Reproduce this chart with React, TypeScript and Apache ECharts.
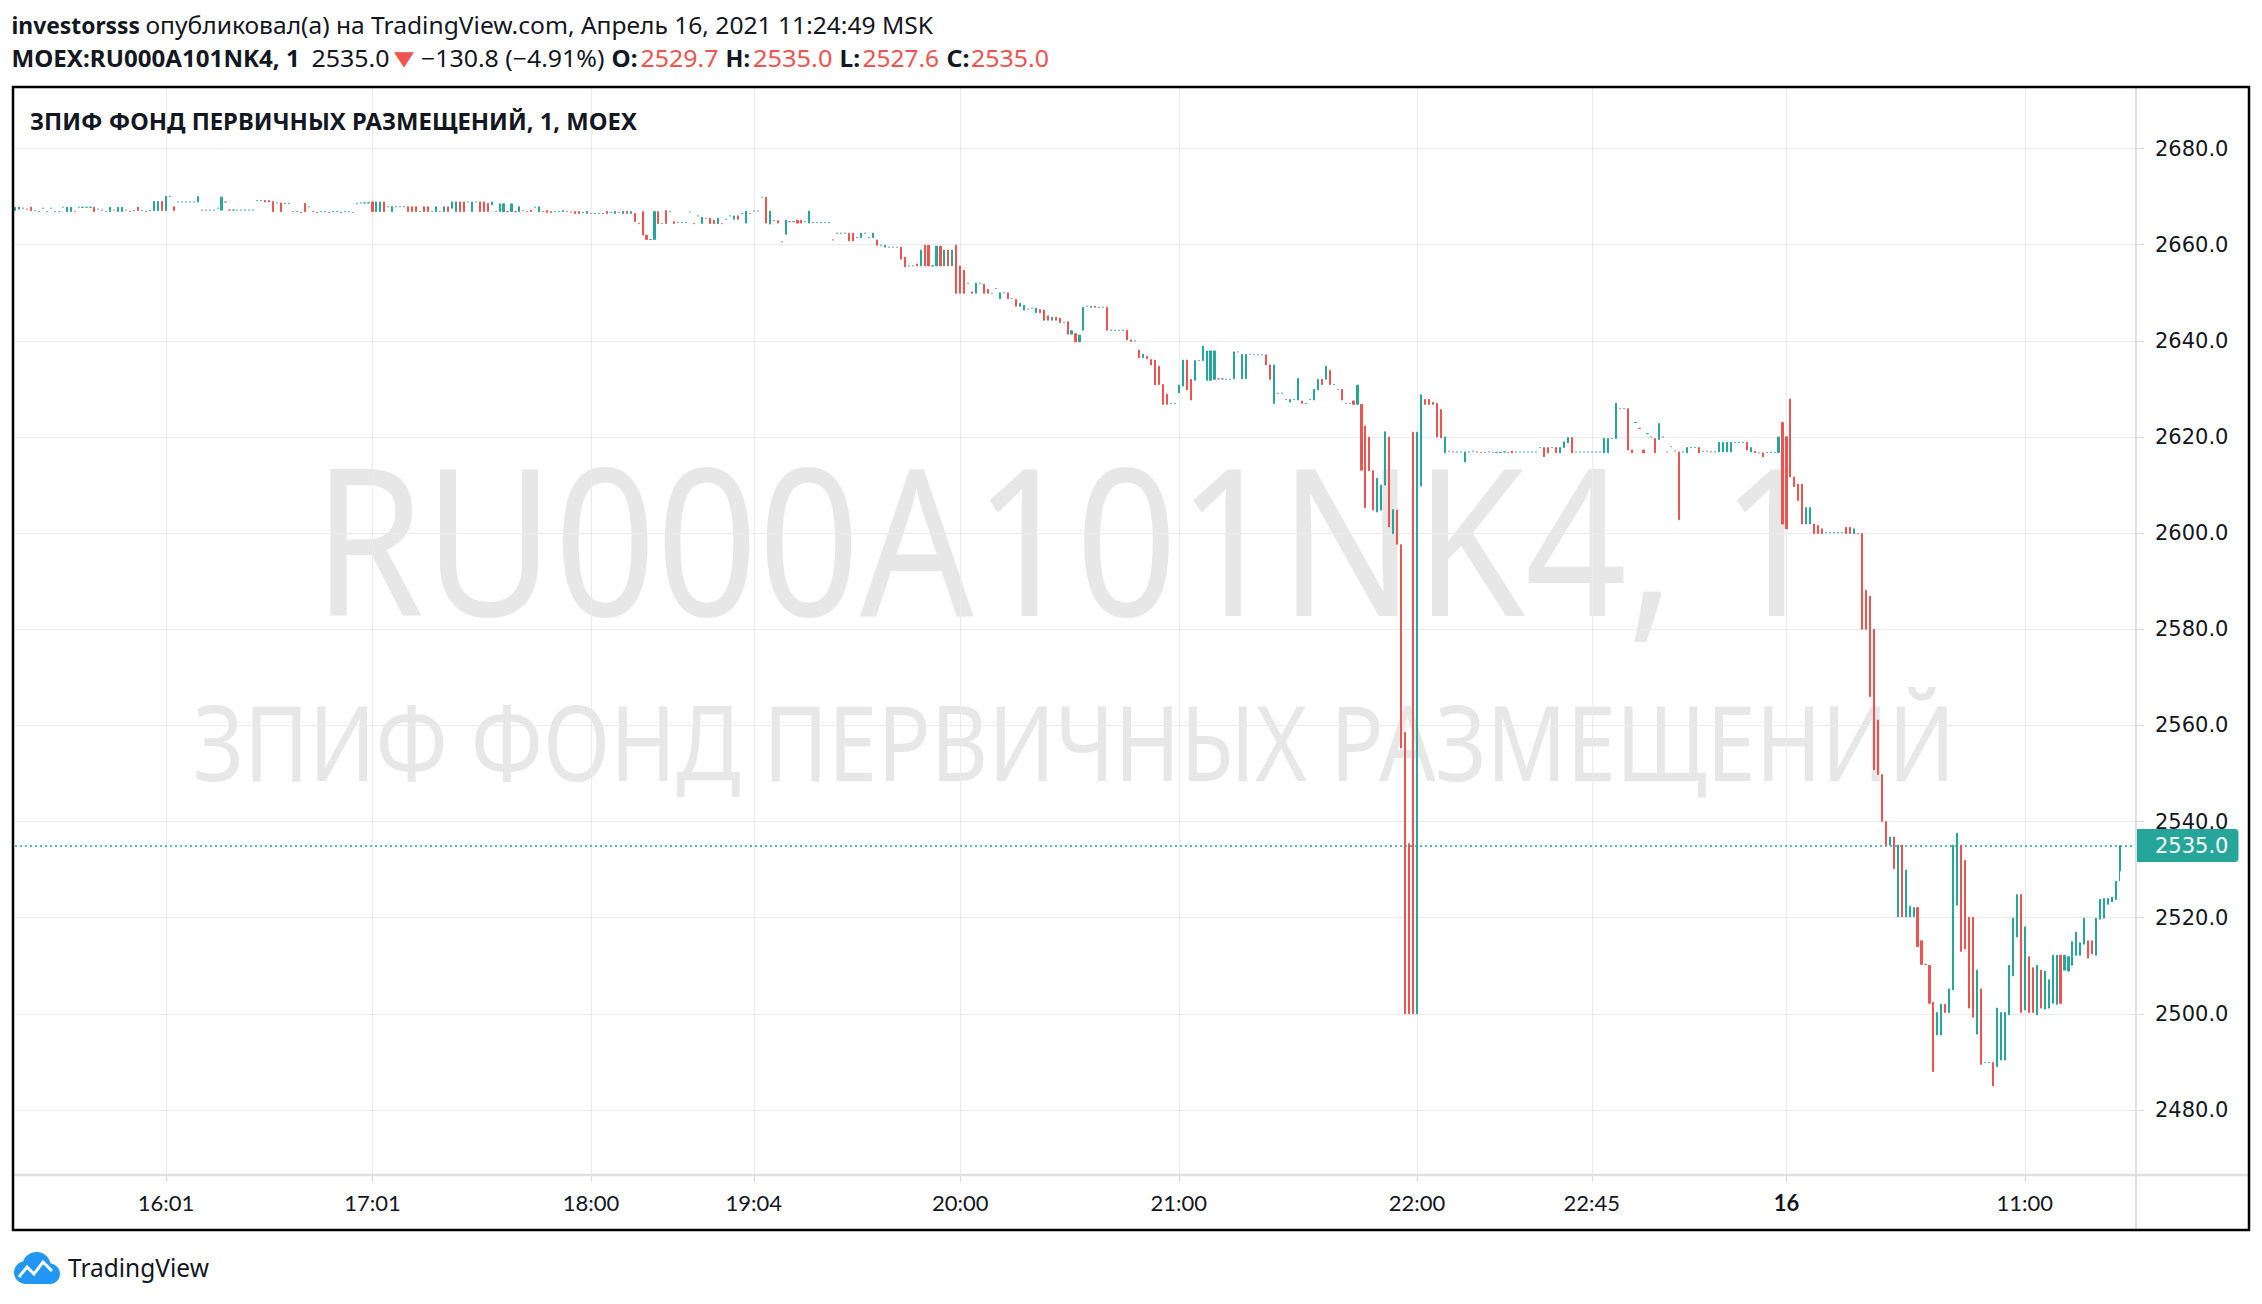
import React, { useEffect, useRef } from "react";
import * as echarts from "echarts";

type Bar = number | number[];

// ---- 1-minute OHLC bars (open, close[, low, high]); a single number = flat bar ----
// 15:23 – 16:51
const barsA: Bar[] = [
  [2667.1, 2667.8], [2667.4, 2667.8], 2667.6, 2667.4, [2667.8, 2667.1], 2667.1, 2666.9, 2667.6, 2666.9, 2667.6,
  2666.9, 2666.9, 2667.8, [2666.9, 2667.8], [2666.9, 2667.8], 2666.9, 2667.8, 2667.8, 2667.8, 2667.8,
  [2667.8, 2666.9], 2667.4, 2667.2, 2666.9, [2666.9, 2667.8], 2667.2, [2666.9, 2667.8], [2666.9, 2667.8], 2667.2, 2666.9,
  2667.1, [2667.8, 2667.1], 2667.1, 2666.9, 2667.1, [2667.1, 2669.0], [2667.1, 2669.0], [2669.0, 2667.1], [2667.1, 2670.1], 2670.0,
  [2667.9, 2667.1], 2668.9, 2668.9, 2668.9, 2668.9, 2668.9, [2668.9, 2670.0], 2667.2, 2667.2, 2667.2,
  2667.2, 2667.6, [2667.2, 2669.9], 2668.9, 2667.2, 2667.2, 2667.2, 2667.2, 2667.2, 2667.2,
  2667.2, 2669.2, 2669.2, [2669.2, 2668.9], [2669.2, 2668.9], [2669.0, 2666.9], 2668.7, [2668.7, 2666.9], 2668.6, 2668.6,
  2666.9, 2666.9, 2666.7, [2668.6, 2666.9], 2667.9, 2666.9, 2666.7, 2666.9, 2666.9, 2666.7,
  2666.9, 2666.9, 2666.7, 2666.9, 2666.9, 2666.7, 2668.6, 2668.7, 2668.7, 2668.7,
];

// 17:01 – 18:59
const barsB: Bar[] = [
  [2668.9, 2666.9], [2666.9, 2668.9], [2666.9, 2668.9], [2668.9, 2666.9], 2667.9, [2666.9, 2667.9], 2667.9, 2667.9, 2667.9, [2667.9, 2666.9],
  [2667.9, 2666.9], [2667.9, 2666.9], 2666.9, [2667.9, 2666.9], [2667.9, 2666.9], 2666.9, [2666.9, 2667.9], 2666.9, [2666.9, 2667.9], [2667.9, 2666.9],
  [2667.6, 2668.9], [2666.9, 2668.9], [2668.9, 2666.9], [2668.9, 2666.9], 2668.9, [2666.9, 2668.9], 2668.9, [2668.9, 2666.9], [2668.9, 2666.9], [2668.6, 2666.9],
  [2668.3, 2668.9], 2666.9, [2666.9, 2668.5], [2666.9, 2668.5], 2666.9, [2666.9, 2668.5], 2666.9, [2666.9, 2667.9], 2667.1, 2666.9,
  [2667.2, 2666.9], 2667.8, [2666.9, 2667.9], 2666.9, [2667.1, 2666.7], [2666.9, 2666.7], 2666.9, 2666.9, [2666.9, 2667.1], 2666.9,
  2666.8, [2666.9, 2666.5], [2666.9, 2666.5], 2666.7, [2666.5, 2666.9], 2666.5, 2666.5, 2666.5, 2666.5, [2666.9, 2666.5],
  2666.7, [2666.5, 2666.9], 2666.7, [2666.5, 2666.9], [2666.9, 2666.5], [2666.5, 2666.9], [2666.5, 2664.8], 2664.4, [2666.9, 2662.0], [2662.0, 2661.1],
  2661.1, [2661.1, 2666.9], [2666.9, 2664.4], 2664.4, [2667.1, 2664.4], 2666.9, [2664.8, 2664.4], 2664.6, 2664.6, 2664.6,
  2666.8, 2664.4, 2666.0, [2664.4, 2665.7], 2665.5, [2665.5, 2664.4], [2665.1, 2664.4], [2664.4, 2665.5], 2664.4, 2665.3,
  2666.0, [2665.3, 2666.0], [2666.0, 2665.3],
];

// 19:01 – 19:59
const barsC: Bar[] = [
  2666.5, [2664.5, 2667.0], 2666.5, 2667.0, 2667.0, 2669.9, [2669.9, 2664.5], [2664.3, 2667.0], 2665.0, [2665.0, 2664.5],
  2660.6, [2662.2, 2665.1], 2664.8, 2664.8, [2665.1, 2664.5], [2665.1, 2664.5], 2664.8, [2664.5, 2667.0], 2664.6, 2664.6,
  2664.6, 2664.6, 2664.6, 2661.0, 2662.4, 2662.4, 2662.4, [2662.4, 2660.8], [2662.4, 2660.8], 2661.5,
  [2661.5, 2662.4], 2662.4, 2661.5, [2661.5, 2662.4], [2661.0, 2659.9], 2659.9, [2659.5, 2659.9], 2659.5, 2659.5, 2659.5,
  [2659.5, 2657.0], [2657.4, 2655.4], 2655.6, 2655.6, [2656.0, 2655.6], [2655.6, 2658.9], [2659.9, 2655.6], [2659.9, 2655.6], 2655.6, [2655.6, 2659.7],
  [2659.7, 2655.6], [2655.6, 2658.9], [2658.9, 2655.6], [2655.6, 2658.9], [2659.9, 2649.9],
];

// 20:00 – 20:59
const barsD: Bar[] = [
  [2655.6, 2649.9], [2654.7, 2649.9], 2652.0, [2650.2, 2649.9], [2649.9, 2652.0], 2652.0, [2651.8, 2649.9], [2650.7, 2649.9], 2649.9, 2650.9,
  [2648.8, 2650.0], 2650.0, [2650.0, 2648.8], 2648.8, [2648.6, 2647.2], [2647.2, 2647.8], [2646.4, 2647.4], 2646.6, 2646.8, [2645.85, 2646.8],
  [2646.5, 2645.85], [2646.4, 2644.3], [2645.2, 2644.3], [2644.3, 2644.9], [2644.9, 2644.3], [2644.7, 2643.8], 2643.8, [2644.0, 2641.4], [2641.4, 2642.1], [2641.5, 2639.8],
  [2639.8, 2641.2], [2642.2, 2647.0], 2647.2, [2647.0, 2647.2], [2647.2, 2647.0], 2647.0, 2647.0, [2647.0, 2642.2], 2642.2, 2642.2,
  2642.2, 2642.2, [2642.2, 2640.2], [2640.2, 2639.9], 2640.0, [2638.1, 2636.5], [2636.5, 2637.2], [2636.8, 2636.3], [2636.1, 2635.0], [2636.0, 2630.9],
  [2634.7, 2630.9], [2630.9, 2626.8], [2628.9, 2626.8], 2627.0, 2627.0,
];

// 21:00 – 23:49
const barsE: Bar[] = [
  [2629.2, 2630.8], [2630.6, 2636.0], [2636.0, 2629.8], [2632.0, 2627.7], [2631.8, 2635.9], 2635.9, [2635.9, 2638.9], [2631.8, 2637.9], [2631.8, 2637.9], [2632.0, 2637.9],
  2632.1, 2632.1, 2632.0, 2632.0, [2632.1, 2637.7], 2637.7, [2632.1, 2637.2], [2632.2, 2637.2], 2637.2, 2637.1,
  2637.1, 2637.1, [2637.1, 2635.0], [2635.0, 2632.0], [2627.0, 2635.0], 2629.1, 2629.1, 2627.8, [2627.3, 2627.8], 2627.8,
  [2627.7, 2632.2], [2627.5, 2627.0], 2627.0, 2627.8, [2627.7, 2629.9], [2629.8, 2632.0], [2632.0, 2630.9], [2632.0, 2634.7], [2633.9, 2630.9], 2630.9,
  2629.9, [2629.9, 2627.7], 2627.0, 2627.0, [2627.5, 2626.8], [2626.8, 2630.8], [2626.8, 2613.1], [2622.3, 2605.3], [2620.0, 2613.0], [2613.0, 2604.8],
  [2604.4, 2611.4], [2604.8, 2610.0], [2610.0, 2621.1], [2620.0, 2601.3], [2599.9, 2604.9], [2604.8, 2597.7], [2597.6, 2555.3], [2558.6, 2500.0], [2535.4, 2500.0], [2621.0, 2500.0],
  [2500.0, 2621.0], [2609.8, 2628.8], [2627.8, 2626.8], [2627.8, 2626.8], [2627.2, 2626.8], [2627.0, 2620.0], [2625.7, 2619.8], [2616.7, 2620.0], 2617.05, 2616.9,
  2616.9, 2616.9, [2614.8, 2616.9], 2616.9, 2617.05, 2616.9, 2616.8, 2616.8, 2616.9, 2616.8,
  2616.8, 2616.8, 2616.9, 2616.8, [2617.05, 2616.7], 2616.9, 2616.9, 2616.9, 2616.9, 2616.9,
  2616.9, 2617.8, [2617.8, 2615.9], [2617.8, 2616.7], 2617.8, [2617.8, 2616.7], [2616.7, 2617.8], [2617.8, 2619.0], [2618.8, 2619.9], [2619.9, 2616.7],
  2616.9, 2616.9, 2616.9, 2616.9, 2616.9, 2616.9, 2616.9, [2616.7, 2619.7], [2616.7, 2619.7], 2619.7,
  [2619.7, 2627.0], 2625.9, 2625.9, [2625.9, 2617.3], [2617.3, 2616.7], 2623.0, 2621.8, [2617.3, 2616.7], 2620.7, 2620.0,
  [2619.7, 2616.7], [2619.5, 2622.8], 2620.0, 2616.9, 2618.0, 2617.1, [2616.9, 2602.8], 2616.9, [2616.7, 2617.8], 2617.8,
  2617.8, [2617.8, 2616.7], 2617.05, 2617.05, 2616.9, 2616.9, [2616.9, 2618.9], [2616.9, 2618.9], [2616.9, 2618.9], [2616.9, 2618.9],
  2618.9, 2618.9, 2618.9, [2618.9, 2617.3], [2616.9, 2617.8], [2617.05, 2616.7], 2616.7, [2616.7, 2615.9], 2616.8, 2616.8,
  2616.8, [2616.8, 2620.0], [2623.0, 2601.9],
];

// 16 April, 10:00 – 11:24
const barsF: Bar[] = [
  [2620.05, 2600.9], [2627.9, 2611.7], [2611.7, 2609.7], [2610.2, 2606.8], [2610.2, 2601.9], [2601.9, 2605.3], [2601.9, 2605.3], [2601.9, 2599.9], [2601.6, 2599.9], [2600.9, 2599.9],
  2600.1, 2600.1, 2600.1, 2600.1, 2600.1, [2601.2, 2599.9], [2601.2, 2599.9], [2599.9, 2600.9], 2599.9, [2599.9, 2580.0],
  [2588.1, 2580.0], [2586.9, 2566.0], [2580.0, 2550.8], [2561.1, 2549.8], [2549.8, 2540.0], [2540.0, 2535.1], [2535.1, 2536.8], [2536.8, 2530.2], [2520.2, 2535.1], [2535.1, 2520.2],
  [2520.2, 2529.9], [2520.2, 2522.4], [2520.2, 2522.1], [2522.1, 2514.0], [2515.2, 2510.3], 2510.3, [2510.1, 2502.2], [2502.4, 2488.0], [2495.6, 2500.3], [2495.6, 2502.0],
  [2502.0, 2500.3], [2500.3, 2505.2], [2505.0, 2535.1], [2522.6, 2537.6], [2535.1, 2513.0], [2531.9, 2513.5], [2520.1, 2501.2], [2520.1, 2499.3], [2495.8, 2509.1], [2505.2, 2489.5],
  2489.9, 2489.9, [2489.9, 2485.0], [2489.0, 2501.2], [2490.4, 2500.3], [2490.4, 2500.3], [2499.8, 2510.1], [2507.9, 2519.9], [2516.0, 2524.8], [2524.8, 2500.3],
  [2500.8, 2518.1], [2511.9, 2500.3], [2509.6, 2500.3], [2499.8, 2510.1], [2509.1, 2501.2], [2501.0, 2508.9], [2501.2, 2507.1], [2502.2, 2512.2], [2502.0, 2512.2], [2512.2, 2502.2],
  [2509.1, 2512.2], [2508.9, 2511.9], [2510.1, 2515.0], [2512.2, 2517.0], [2512.2, 2514.8], [2514.5, 2519.9], [2515.2, 2511.6], [2515.2, 2512.5], [2512.2, 2519.9], [2519.7, 2523.8],
  [2519.9, 2524.0], [2522.8, 2524.0], [2523.3, 2524.3], [2523.8, 2527.6], [2529.7, 2535.0, 2527.6, 2535.0],
];

const emptySlots = 4; // right margin of the price scale
const timeLabels: [number, string][] = [
  [38, "16:01"], [90, "17:01"], [145, "18:00"], [186, "19:04"], [238, "20:00"],
  [293, "21:00"], [353, "22:00"], [397, "22:45"], [446, "16"], [506, "11:00"],
];
const lastPrice = 2535.0;
const priceMin = 2466.69;
const priceMax = 2692.81;
const priceStep = 20;

const symbolTitle = "ЗПИФ ФОНД ПЕРВИЧНЫХ РАЗМЕЩЕНИЙ, 1, MOEX";
const watermark1 = "RU000A101NK4, 1";
const watermark2 = "ЗПИФ ФОНД ПЕРВИЧНЫХ РАЗМЕЩЕНИЙ";

const UP = "#26a69a";
const DOWN = "#ef5350";
const INK = "#131722";
const W = 2262;
const H = 1304;
const UI_FONT = '"Noto Sans", "Open Sans", sans-serif';

const CLOUD_D =
  "M12 32C5.4 32 0 27 0 20.6 0 15.1 3.9 10.5 9.1 9.4 11 3.9 16.3 0 22.5 0 29.4 0 35.1 4.8 36.4 11.2 41.8 12 46 16.6 46 22.1 46 27.6 41.5 32 36 32Z";
try {
  echarts.graphic.registerShape("tvCloud", echarts.graphic.extendPath(CLOUD_D, {}) as any);
} catch (e) {
  /* ignore */
}

let measureCtx: CanvasRenderingContext2D | null = null;
function textWidth(text: string, font: string): number {
  if (!measureCtx) {
    const c = document.createElement("canvas");
    measureCtx = c.getContext("2d");
  }
  if (!measureCtx) return 0;
  measureCtx.font = font;
  return measureCtx.measureText(text).width;
}

function piece(text: string, x0: number, x1: number, yc: number, size: number, weight: string, color: string, family = UI_FONT, z = 40) {
  const font = `${weight} ${size}px ${family}`;
  const w = textWidth(text, font);
  const sx = w > 0 ? (x1 - x0) / w : 1;
  return {
    type: "text",
    x: x0,
    y: yc,
    scaleX: sx,
    z,
    silent: true,
    style: {
      text,
      fill: color,
      fontSize: size,
      fontWeight: weight,
      fontFamily: family,
      align: "left",
      textAlign: "left",
      verticalAlign: "middle",
      textVerticalAlign: "middle",
    },
  };
}

function centered(text: string, cx: number, yc: number, width: number, size: number, color: string) {
  const font = `normal ${size}px ${UI_FONT}`;
  const w = textWidth(text, font);
  const sx = w > 0 ? width / w : 1;
  return {
    type: "text",
    x: cx,
    y: yc,
    scaleX: sx,
    z: 0,
    silent: true,
    style: {
      text,
      fill: color,
      fontSize: size,
      fontFamily: UI_FONT,
      align: "center",
      textAlign: "center",
      verticalAlign: "middle",
      textVerticalAlign: "middle",
    },
  };
}

function buildOption() {
  const bars = [...barsA, ...barsB, ...barsC, ...barsD, ...barsE, ...barsF];
  const total = bars.length + emptySlots;
  const categories = Array.from({ length: total }, (_, i) => String(i));
  const labelMap = new Map<number, string>(timeLabels);
  const isLabel = (i: number) => labelMap.has(i);

  let prevClose: number | null = null;
  const candles = bars.map((b) => {
    let o: number, c: number, l: number, h: number;
    if (typeof b === "number") {
      o = c = l = h = b;
    } else if (b.length === 2) {
      o = b[0];
      c = b[1];
      l = Math.min(o, c);
      h = Math.max(o, c);
    } else {
      o = b[0];
      c = b[1];
      l = b[2];
      h = b[3];
    }
    const up = c > o || (c === o && (prevClose === null || c >= prevClose));
    prevClose = c;
    const col = up ? UP : DOWN;
    return {
      value: [o, c, l, h],
      itemStyle: { color: col, color0: col, borderColor: col, borderColor0: col, borderColorDoji: col },
    };
  });

  const header1 = [
    piece("investorsss", 11.5, 140, 25, 24, "bold", INK),
    piece("опубликовал(а) на TradingView.com, Апрель 16, 2021 11:24:49 MSK", 145.5, 933, 25, 24, "normal", INK),
  ];
  const header2 = [
    piece("MOEX:RU000A101NK4, 1", 11.5, 300, 58, 24, "bold", INK),
    piece("2535.0", 311.5, 389.5, 58, 24, "normal", INK),
    piece("▼", 394, 414, 58, 20, "normal", DOWN, '"DejaVu Sans", sans-serif'),
    piece("−130.8 (−4.91%)", 421, 604.5, 58, 24, "normal", INK),
    piece("O:", 611.5, 637.5, 58, 24, "bold", INK),
    piece("2529.7", 640.5, 718.5, 58, 24, "normal", DOWN),
    piece("H:", 725.5, 750, 58, 24, "bold", INK),
    piece("2535.0", 753, 832.5, 58, 24, "normal", DOWN),
    piece("L:", 839.5, 860, 58, 24, "bold", INK),
    piece("2527.6", 862.5, 939, 58, 24, "normal", DOWN),
    piece("C:", 946.5, 969.5, 58, 24, "bold", INK),
    piece("2535.0", 971, 1049, 58, 24, "normal", DOWN),
  ];

  const graphic: any[] = [
    centered(watermark1, 1068, 536, 1510, 205, "#e7e7e7"),
    centered(watermark2, 1074, 741, 1762, 104, "#e7e7e7"),
    piece(symbolTitle, 30, 637, 120, 24, "bold", INK),
    ...header1,
    ...header2,
    {
      type: "line",
      silent: true,
      z: 30,
      shape: { x1: 2136, y1: 87, x2: 2136, y2: 1230 },
      style: { stroke: "#e0e0e0", lineWidth: 2 },
    },
    {
      type: "line",
      silent: true,
      z: 30,
      shape: { x1: 13, y1: 1175, x2: 2249, y2: 1175 },
      style: { stroke: "#e0e0e0", lineWidth: 2.5 },
    },
    {
      type: "rect",
      silent: true,
      z: 50,
      shape: { x: 13, y: 87, width: 2236, height: 1143 },
      style: { fill: "none", stroke: "#000", lineWidth: 2.5 },
    },
    { type: "tvCloud", x: 14, y: 1252, silent: true, z: 40, style: { fill: "#2196f3" } },
    {
      type: "polyline",
      silent: true,
      z: 41,
      shape: { points: [[19, 1277], [27, 1267], [34, 1274], [43, 1262], [52, 1271]] },
      style: { stroke: "#fff", lineWidth: 3, fill: "none" },
    },
    piece("TradingView", 68, 209, 1267, 26, "normal", INK),
  ];

  return {
    animation: false,
    backgroundColor: "#ffffff",
    grid: { left: 15, right: W - 2136, top: 87, bottom: H - 1174, containLabel: false },
    xAxis: {
      type: "category",
      data: categories,
      boundaryGap: false,
      axisLine: { show: false },
      axisTick: { show: true, length: 8, interval: (i: number) => isLabel(i), lineStyle: { color: "#d9d9d9", width: 1 } },
      axisLabel: {
        interval: (i: number) => isLabel(i),
        formatter: (_v: string, i: number) => {
          const t = labelMap.get(i) ?? "";
          return t === "16" ? "{b|16}" : t;
        },
        margin: 17,
        color: INK,
        fontFamily: "Lato, sans-serif",
        fontSize: 22,
        rich: { b: { fontWeight: "bold", fontFamily: "Lato, sans-serif", fontSize: 22, color: INK } },
      },
      splitLine: { show: true, interval: (i: number) => isLabel(i), lineStyle: { color: "#ebebeb", width: 1 } },
    },
    yAxis: {
      type: "value",
      position: "right",
      scale: true,
      min: priceMin,
      max: priceMax,
      minInterval: priceStep,
      maxInterval: priceStep,
      axisLine: { show: false },
      axisTick: { show: true, length: 8, lineStyle: { color: "#d9d9d9" } },
      axisLabel: {
        showMinLabel: false,
        showMaxLabel: false,
        margin: 19,
        formatter: (v: number) => v.toFixed(1),
        color: INK,
        fontFamily: '"DejaVu Sans", sans-serif',
        fontSize: 21,
      },
      splitLine: { show: true, lineStyle: { color: "#ebebeb", width: 1 } },
    },
    series: [
      {
        type: "candlestick",
        data: candles,
        barWidth: 1.6,
        silent: true,
        large: false,
        z: 5,
        itemStyle: { borderWidth: 1, color: UP, color0: DOWN, borderColor: UP, borderColor0: DOWN },
        emphasis: { disabled: true },
        markLine: {
          silent: true,
          animation: false,
          symbol: ["none", "none"],
          data: [{ yAxis: lastPrice }],
          lineStyle: { color: UP, type: [2, 3], width: 1.5 },
          label: {
            show: true,
            position: "end",
            distance: 0,
            formatter: lastPrice.toFixed(1),
            backgroundColor: UP,
            color: "#ffffff",
            fontFamily: '"DejaVu Sans", sans-serif',
            fontSize: 21,
            padding: [6, 10, 6, 19],
            borderRadius: [0, 4, 4, 0],
          },
          emphasis: { disabled: true },
        },
      },
    ],
    graphic,
  };
}

export default function App() {
  const ref = useRef<HTMLDivElement>(null);
  useEffect(() => {
    if (!ref.current) return;
    const chart = echarts.init(ref.current, null, { renderer: "svg" });
    chart.setOption(buildOption() as any);
    return () => chart.dispose();
  }, []);
  return (
    <div
      ref={ref}
      style={{ position: "fixed", left: 0, top: 0, width: W, height: H, background: "#ffffff" }}
    />
  );
}
